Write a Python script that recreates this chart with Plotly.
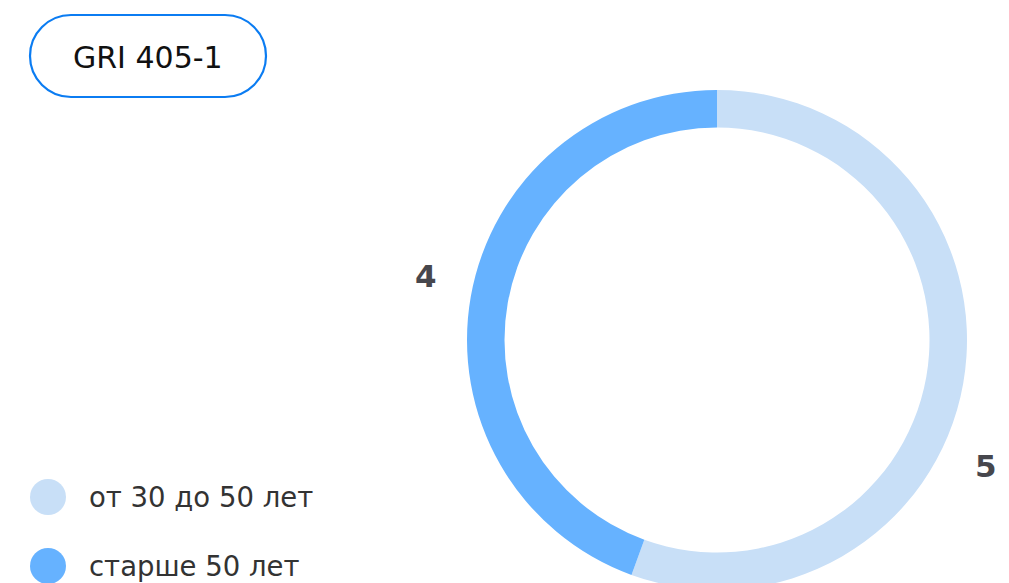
import plotly.graph_objects as go

# ---- data ----
categories = ["от 30 до 50 лет", "старше 50 лет"]
values = [5, 4]
colors = ["#C8DFF7", "#66B2FF"]
badge_text = "GRI 405-1"

W, H = 1009, 680
FONT = "DejaVu Sans, Inter, sans-serif"

def px(x):
    return x / W

def py(y):
    return 1 - y / H

fig = go.Figure()

fig.add_trace(go.Pie(
    labels=categories,
    values=values,
    marker=dict(colors=colors, line=dict(width=0)),
    hole=0.85,
    sort=False,
    direction="clockwise",
    rotation=0,
    textinfo="none",
    hoverinfo="label+value",
    showlegend=False,
    domain=dict(x=[px(467), px(967)], y=[py(590), py(90)]),
))

label_font = dict(family=FONT, size=31, color="#47474d", weight=600)
label_pos = [(986, 466), (426, 276)]
annotations = []
for v, (lx, ly) in zip(values, label_pos):
    annotations.append(dict(
        x=px(lx), y=py(ly), xref="paper", yref="paper",
        text=str(v), showarrow=False, font=label_font,
        xanchor="center", yanchor="middle",
    ))

# custom legend
legend_y = [497, 566]
shapes = []
for cat, col, ly in zip(categories, colors, legend_y):
    shapes.append(dict(
        type="circle", xref="paper", yref="paper",
        xsizemode="pixel", ysizemode="pixel",
        xanchor=px(48), yanchor=py(ly),
        x0=-18, x1=18, y0=-18, y1=18,
        fillcolor=col, line=dict(width=0),
    ))
    annotations.append(dict(
        x=px(87), y=py(ly), xref="paper", yref="paper",
        text=cat, showarrow=False,
        font=dict(family=FONT, size=27.5, color="#333333"),
        xanchor="left", yanchor="middle",
    ))

# badge (stadium shape)
bw, bh = 236, 82
r = bh / 2
k = 0.5523 * r
hx = bw / 2 - r
path = (
    f"M {-hx},{r} L {hx},{r} "
    f"C {hx + k},{r} {hx + r},{k} {hx + r},0 "
    f"C {hx + r},{-k} {hx + k},{-r} {hx},{-r} "
    f"L {-hx},{-r} "
    f"C {-hx - k},{-r} {-hx - r},{-k} {-hx - r},0 "
    f"C {-hx - r},{k} {-hx - k},{r} {-hx},{r} Z"
)
shapes.append(dict(
    type="path", xref="paper", yref="paper",
    xsizemode="pixel", ysizemode="pixel",
    xanchor=px(148), yanchor=py(56),
    path=path, fillcolor="white",
    line=dict(color="#0B7CF2", width=2.2),
))
annotations.append(dict(
    x=px(148), y=py(57), xref="paper", yref="paper",
    text=badge_text, showarrow=False,
    font=dict(family=FONT, size=30, color="#111111"),
    xanchor="center", yanchor="middle",
))

fig.update_layout(
    width=W, height=H,
    margin=dict(l=0, r=0, t=0, b=0),
    paper_bgcolor="white", plot_bgcolor="white",
    shapes=shapes, annotations=annotations,
    showlegend=False,
)

fig.write_html(
    "out.html",
    config={"displayModeBar": False},
    post_script="document.body.style.margin='0';document.body.style.overflow='hidden';document.documentElement.style.overflow='hidden';",
)
